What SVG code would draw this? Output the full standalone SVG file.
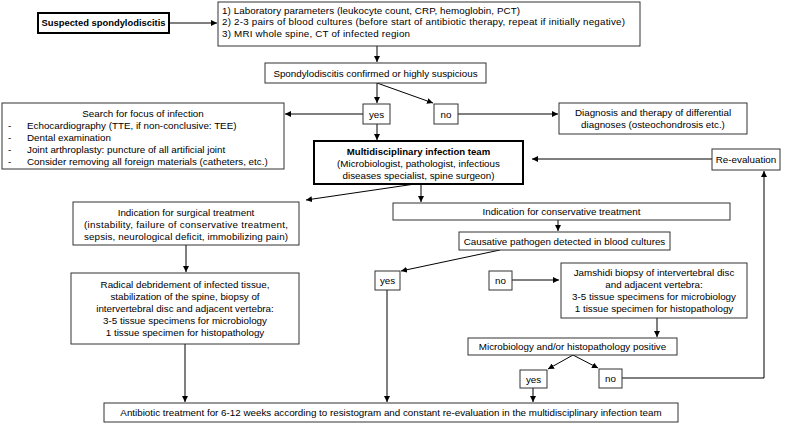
<svg xmlns="http://www.w3.org/2000/svg" width="787" height="425" viewBox="0 0 787 425">
<defs>
<marker id="ah" markerUnits="userSpaceOnUse" markerWidth="6" markerHeight="6" refX="6" refY="3" orient="auto">
<path d="M0,0 L6,3 L0,6 z" fill="#000"/>
</marker>
<style>
.b{fill:#fff;stroke:#333;stroke-width:1}
.bt{fill:#fff;stroke:#000;stroke-width:2}
text{font-family:"Liberation Sans",Arial,sans-serif;font-size:9.8px;fill:#000}
.c{text-anchor:middle}
.bold{font-weight:bold;font-size:9.4px}
.cn line,.cn polyline{stroke:#000;stroke-width:1;fill:none;marker-end:url(#ah)}
</style>
</defs>
<rect width="787" height="425" fill="#fff"/>
<g class="cn" id="connectors">
<line x1="169" y1="23" x2="217" y2="23"/>
<line x1="377" y1="46" x2="377" y2="62"/>
<line x1="377" y1="83" x2="377" y2="103"/>
<line x1="377" y1="83" x2="433" y2="103"/>
<line x1="363" y1="114" x2="285" y2="114"/>
<line x1="458" y1="114" x2="558" y2="114"/>
<line x1="377" y1="124" x2="377" y2="140"/>
<line x1="415" y1="184" x2="306" y2="200"/>
<line x1="421" y1="184" x2="421" y2="202"/>
<line x1="712" y1="159" x2="532" y2="159"/>
<line x1="558" y1="220" x2="558" y2="231"/>
<line x1="500" y1="250" x2="401" y2="271"/>
<line x1="512" y1="280" x2="559" y2="280"/>
<line x1="186" y1="245" x2="186" y2="272"/>
<line x1="185" y1="344" x2="185" y2="402"/>
<line x1="387" y1="290" x2="387" y2="402"/>
<line x1="657" y1="318" x2="657" y2="337"/>
<line x1="573" y1="355" x2="548" y2="369"/>
<line x1="573" y1="355" x2="598" y2="368"/>
<line x1="533" y1="388" x2="533" y2="402"/>
<polyline points="622,378 764,378 764,171"/>
</g>
<g id="suspected"><rect class="bt" x="38" y="13" width="131" height="20"/><text class="c bold" x="103.5" y="26.4">Suspected spondylodiscitis</text></g>
<g id="lab"><rect class="b" x="218" y="2" width="422" height="44"/>
<text x="222" y="13.5" textLength="298">1) Laboratory parameters (leukocyte count, CRP, hemoglobin, PCT)</text>
<text x="222" y="25" textLength="403">2) 2-3 pairs of blood cultures (before start of antibiotic therapy, repeat if initially negative)</text>
<text x="222" y="36.5" textLength="188">3) MRI whole spine, CT of infected region</text></g>
<g id="confirmed"><rect class="b" x="265" y="63" width="221" height="20"/><text class="c" x="375.5" y="76.5">Spondylodiscitis confirmed or highly suspicious</text></g>
<g id="yes1"><rect class="b" x="363" y="104" width="27" height="20"/><text class="c" x="376.5" y="117.5">yes</text></g>
<g id="no1"><rect class="b" x="434" y="104" width="24" height="20"/><text class="c" x="446" y="117.5">no</text></g>
<g id="search"><rect class="b" x="2" y="103" width="282" height="66"/>
<text class="c" x="143" y="116.5">Search for focus of infection</text>
<text x="8" y="128.5">-</text><text x="27" y="128.5">Echocardiography (TTE, if non-conclusive: TEE)</text>
<text x="8" y="140.5">-</text><text x="27" y="140.5">Dental examination</text>
<text x="8" y="152.5">-</text><text x="27" y="152.5">Joint arthroplasty: puncture of all artificial joint</text>
<text x="8" y="164.5">-</text><text x="27" y="164.5">Consider removing all foreign materials (catheters, etc.)</text></g>
<g id="diagnosis"><rect class="b" x="559" y="103" width="188" height="31"/>
<text class="c" x="653" y="116.2">Diagnosis and therapy of differential</text>
<text class="c" x="653" y="128.2">diagnoses (osteochondrosis etc.)</text></g>
<g id="team"><rect class="bt" x="314" y="141" width="209" height="43"/>
<text class="c bold" x="418.5" y="154.5" style="font-size:9.6px">Multidisciplinary infection team</text>
<text class="c" x="418.5" y="166.5">(Microbiologist, pathologist, infectious</text>
<text class="c" x="418.5" y="178.5">diseases specialist, spine surgeon)</text></g>
<g id="reeval"><rect class="b" x="712" y="149" width="68" height="21"/><text class="c" x="746" y="163">Re-evaluation</text></g>
<g id="surgical"><rect class="b" x="73" y="202" width="226" height="43"/>
<text class="c" x="186" y="215.5">Indication for surgical treatment</text>
<text class="c" x="186" y="227.5" textLength="204">(instability, failure of conservative treatment,</text>
<text class="c" x="186" y="239.5" textLength="204">sepsis, neurological deficit, immobilizing pain)</text></g>
<g id="radical"><rect class="b" x="71" y="273" width="228" height="71"/>
<text class="c" x="185" y="287.5">Radical debridement of infected tissue,</text>
<text class="c" x="185" y="299.5">stabilization of the spine, biopsy of</text>
<text class="c" x="185" y="311.5">intervertebral disc and adjacent vertebra:</text>
<text class="c" x="185" y="323.5">3-5 tissue specimens for microbiology</text>
<text class="c" x="185" y="335.5">1 tissue specimen for histopathology</text></g>
<g id="conservative"><rect class="b" x="393" y="203" width="337" height="17"/><text class="c" x="561.5" y="215">Indication for conservative treatment</text></g>
<g id="causative"><rect class="b" x="459" y="232" width="211" height="18"/><text class="c" x="564.5" y="244.5">Causative pathogen detected in blood cultures</text></g>
<g id="yes2"><rect class="b" x="375" y="271" width="25" height="19"/><text class="c" x="387.5" y="284">yes</text></g>
<g id="no2"><rect class="b" x="489" y="271" width="23" height="19"/><text class="c" x="500.5" y="284">no</text></g>
<g id="jamshidi"><rect class="b" x="561" y="263" width="186" height="55"/>
<text class="c" x="654" y="275.5">Jamshidi biopsy of intervertebral disc</text>
<text class="c" x="654" y="287.5">and adjacent vertebra:</text>
<text class="c" x="654" y="299.5">3-5 tissue specimens for microbiology</text>
<text class="c" x="654" y="311.5">1 tissue specimen for histopathology</text></g>
<g id="micro"><rect class="b" x="468" y="338" width="209" height="17"/><text class="c" x="572.5" y="350">Microbiology and/or histopathology positive</text></g>
<g id="yes3"><rect class="b" x="520" y="370" width="27" height="18"/><text class="c" x="533.5" y="382.5">yes</text></g>
<g id="no3"><rect class="b" x="599" y="369" width="23" height="19"/><text class="c" x="610.5" y="382">no</text></g>
<g id="antibiotic"><rect class="b" x="104" y="403" width="574" height="19"/><text class="c" x="391" y="416">Antibiotic treatment for 6-12 weeks according to resistogram and constant re-evaluation in the multidisciplinary infection team</text></g>
</svg>
